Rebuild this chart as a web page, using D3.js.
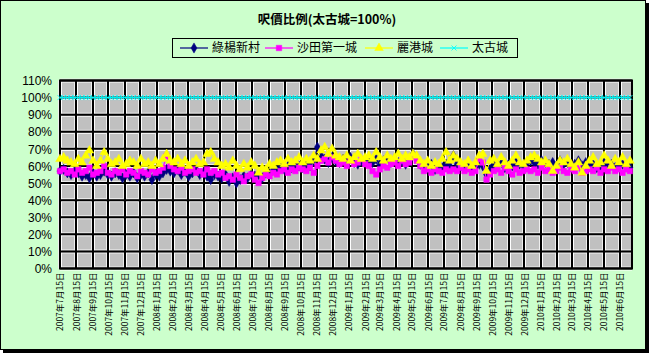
<!DOCTYPE html>
<html><head><meta charset="utf-8">
<script src="https://cdn.jsdelivr.net/npm/d3@7"></script>
<style>html,body{margin:0;padding:0;background:#fff;}svg{display:block;}</style>
</head><body>
<svg id="c" width="656" height="358"></svg>
<script>
const title = "呎價比例(太古城=100%)";
const seriesNames = ["綠楊新村", "沙田第一城", "麗港城", "太古城"];
const seriesColors = ["#000080", "#FF00FF", "#FFFF00", "#00FFFF"];
const yTicks = [0, 10, 20, 30, 40, 50, 60, 70, 80, 90, 100, 110];
const startDate = new Date(2007, 6, 15);
const weekCount = 156;

const luk = [
57,58,56,55,57,56,54,55,53,56,54,55,57,55,
54,56,55,53,55,54,56,53,55,54,56,52,55,54,56,
58,
57,56,58,55,57,54,56,58,55,56,
54,52,55,
54,53,55,51,53,50,52,54,53,55,
54,55,53,56,55,
58,57,59,58,60,59,61,60,59,61,60,
63,71,
66,64,62,65,63,
62,64,63,65,62,61,63,64,
63,62,64,61,63,65,62,
64,62,63,61,63,
67,65,61,
60,59,61,58,60,59,61,60,
66,61,60,
59,60,58,60,
61,60,55,58,
61,60,62,59,61,60,62,61,60,62,
63,62,61,63,62,
61,62,60,63,61,62,60,61,63,60,62,
60,61,59,60,62,60,61,59,60,61,60,59];

const shatin = [
57,58,56,57,55,58,56,57,59,55,56,57,60,56,
55,57,56,58,55,57,56,54,57,56,55,58,56,57,59,
66,
60,58,57,59,56,57,58,56,57,55,
58,56,57,
55,56,53,54,52,55,53,51,54,55,
52,50,53,55,54,
56,55,57,58,56,58,57,59,58,57,59,
56,60,
63,64,62,65,63,
61,62,60,63,61,62,64,61,
60,57,55,58,60,59,61,
62,60,63,61,62,
65,63,60,
57,58,56,58,57,56,58,57,
58,57,59,
57,58,56,57,
64,62,52,55,
57,58,56,59,57,55,58,56,57,58,
57,58,56,59,57,
58,56,57,59,57,56,58,57,59,56,57,
58,57,59,56,58,57,59,57,58,56,58,57];

const laguna = [
64,65,63,62,61,64,62,66,69,63,60,63,68,64,
61,62,64,60,61,63,62,60,64,61,62,60,63,61,64,
67,
63,62,64,61,63,60,62,64,61,62,
67,68,64,
62,60,61,59,63,60,58,61,59,62,
60,56,59,58,61,
60,62,63,61,64,62,63,65,62,64,63,
66,64,
69,71,67,70,66,
65,64,66,63,65,67,64,65,
66,64,68,65,63,66,64,
65,67,64,66,65,
67,66,63,
61,63,60,62,61,64,68,63,
66,64,62,
61,63,60,62,
66,67,57,63,
64,61,65,62,60,63,66,62,61,63,
65,66,64,62,63,
61,57,60,63,62,64,61,59,62,56,60,
63,65,61,62,66,63,60,64,62,65,61,63];

const taikoo = [
100,100,100,100,100,100,100,100,100,100,100,100,100,100,
100,100,100,100,100,100,100,100,100,100,100,100,100,100,100,
100,
100,100,100,100,100,100,100,100,100,100,
100,100,100,
100,100,100,100,100,100,100,100,100,100,
100,100,100,100,100,
100,100,100,100,100,100,100,100,100,100,100,
100,100,
100,100,100,100,100,
100,100,100,100,100,100,100,100,
100,100,100,100,100,100,100,
100,100,100,100,100,
100,100,100,
100,100,100,100,100,100,100,100,
100,100,100,
100,100,100,100,
100,100,100,100,
100,100,100,100,100,100,100,100,100,100,
100,100,100,100,100,
100,100,100,100,100,100,100,100,100,100,100,
100,100,100,100,100,100,100,100,100,100,100,100];

const allSeries = [luk, shatin, laguna, taikoo];

const svg = d3.select("#c");

// chart area with shadow
svg.append("rect").attr("x", 3).attr("y", 3).attr("width", 646).attr("height", 350).attr("fill", "#000");
svg.append("rect").attr("x", 0.5).attr("y", 0.5).attr("width", 645).attr("height", 349)
  .attr("fill", "#CCFFCC").attr("stroke", "#000").attr("stroke-width", 1);

const plot = {l: 60, r: 632, t: 80.5, b: 268.5};

const x = d3.scaleTime().domain([new Date(2007, 6, 15), new Date(2010, 6, 8)]).range([plot.l, plot.r]);
const y = d3.scaleLinear().domain([0, 110]).range([plot.b, plot.t]);

const dates = d3.range(weekCount).map(i => d3.timeDay.offset(startDate, 7 * i));
const tickDates = d3.timeMonth.range(new Date(2007, 6, 1), new Date(2010, 5, 2)).map(d => new Date(d.getFullYear(), d.getMonth(), 15));
const fmt = d => `${d.getFullYear()}年${d.getMonth() + 1}月${d.getDate()}日`;

// plot background
svg.append("rect").attr("x", plot.l).attr("y", plot.t).attr("width", plot.r - plot.l).attr("height", plot.b - plot.t)
  .attr("fill", "#C0C0C0");

const grid = svg.append("g");
yTicks.forEach(v => {
  const yy = y(v);
  grid.append("line").attr("x1", plot.l).attr("x2", plot.r).attr("y1", yy + 1.5).attr("y2", yy + 1.5).attr("stroke", "#fff").attr("stroke-width", 1);
  grid.append("line").attr("x1", plot.l).attr("x2", plot.r).attr("y1", yy - 1.5).attr("y2", yy - 1.5).attr("stroke", "#eee").attr("stroke-width", 1);
});
tickDates.forEach(d => {
  const xx = Math.round(x(d));
  grid.append("line").attr("x1", xx + 1.5).attr("x2", xx + 1.5).attr("y1", plot.t).attr("y2", plot.b).attr("stroke", "#fff").attr("stroke-width", 1);
  grid.append("line").attr("x1", xx - 1.5).attr("x2", xx - 1.5).attr("y1", plot.t).attr("y2", plot.b).attr("stroke", "#eee").attr("stroke-width", 1);
});
yTicks.forEach(v => {
  const yy = y(v);
  grid.append("line").attr("x1", plot.l).attr("x2", plot.r).attr("y1", yy).attr("y2", yy).attr("stroke", "#000").attr("stroke-width", 2);
});
tickDates.forEach(d => {
  const xx = Math.round(x(d));
  grid.append("line").attr("x1", xx).attr("x2", xx).attr("y1", plot.t).attr("y2", plot.b).attr("stroke", "#000").attr("stroke-width", 2);
});
svg.append("rect").attr("x", plot.l).attr("y", plot.t).attr("width", plot.r - plot.l).attr("height", plot.b - plot.t)
  .attr("fill", "none").attr("stroke", "#000").attr("stroke-width", 2);

// y axis labels
const yAxis = d3.axisLeft(y).tickValues(yTicks).tickFormat(d => d + "%").tickSize(0).tickPadding(8);
const ya = svg.append("g").attr("transform", `translate(${plot.l},0)`).call(yAxis);
ya.select(".domain").remove();
ya.selectAll("text").attr("font-family", "Liberation Sans, Arial, sans-serif").attr("font-size", 12).attr("fill", "#000").attr("dy", "0.35em");

// x axis labels
const xAxis = d3.axisBottom(x).tickValues(tickDates).tickFormat(fmt).tickSize(0);
const xa = svg.append("g").attr("transform", `translate(0,${plot.b})`).call(xAxis);
xa.select(".domain").remove();
xa.selectAll("text")
  .attr("font-family", "Noto Sans CJK TC, sans-serif").attr("font-size", 8.5).attr("fill", "#000")
  .attr("text-anchor", "end").attr("transform", "rotate(-90)")
  .attr("x", -4).attr("y", 0).attr("dy", "0.35em");

// series
const markerSym = [d3.symbolDiamond, d3.symbolSquare, d3.symbolTriangle, d3.symbolX];
const markerSize = [30, 30, 32, 18];
const lineW = [1.2, 1.2, 1, 1];
allSeries.forEach((vals, si) => {
  const data = vals.map((v, i) => ({d: dates[i], v}));
  const line = d3.line().x(p => x(p.d)).y(p => y(p.v));
  svg.append("path").datum(data).attr("d", line).attr("fill", "none")
    .attr("stroke", seriesColors[si]).attr("stroke-width", lineW[si]);
  const g = svg.append("g");
  g.selectAll("path").data(data).enter().append("path")
    .attr("transform", p => `translate(${x(p.d)},${y(p.v)})`)
    .attr("d", d3.symbol().type(markerSym[si]).size(markerSize[si]))
    .attr("fill", si === 3 ? "none" : seriesColors[si])
    .attr("stroke", seriesColors[si]).attr("stroke-width", si === 3 ? 0.9 : 0.5);
});

// title
svg.append("text").attr("x", 327).attr("y", 24).attr("text-anchor", "middle")
  .attr("font-family", "Noto Sans CJK TC, sans-serif").attr("font-size", 12.5).attr("font-weight", "bold")
  .attr("fill", "#000").text(title);

// legend
const lg = svg.append("g");
lg.append("rect").attr("x", 172.5).attr("y", 38.5).attr("width", 345).attr("height", 19)
  .attr("fill", "#CCFFCC").attr("stroke", "#000").attr("stroke-width", 1);
const legendX = [180, 265, 365, 440];
const lsel = lg.selectAll("g.item").data(seriesNames).enter().append("g")
  .attr("transform", (d, i) => `translate(${legendX[i]},48)`);
lsel.append("line").attr("x1", 0).attr("x2", 28).attr("y1", 0).attr("y2", 0)
  .attr("stroke", (d, i) => seriesColors[i]).attr("stroke-width", 1.2);
lsel.append("path").attr("transform", "translate(14,0)")
  .attr("d", (d, i) => d3.symbol().type(markerSym[i]).size(markerSize[i])())
  .attr("fill", (d, i) => i === 3 ? "none" : seriesColors[i])
  .attr("stroke", (d, i) => seriesColors[i]).attr("stroke-width", (d, i) => i === 3 ? 0.9 : 0.5);
lsel.append("text").attr("x", 32).attr("y", 0).attr("dy", "0.35em")
  .attr("font-family", "Noto Sans CJK TC, sans-serif").attr("font-size", 12).attr("fill", "#000")
  .text(d => d);
</script>
</body></html>
